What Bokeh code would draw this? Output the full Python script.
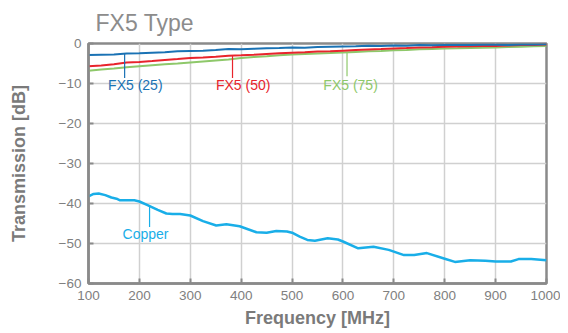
from bokeh.plotting import figure
from bokeh.models import FixedTicker, Range1d
from bokeh.core.properties import value
from bokeh.embed import file_html
from bokeh.resources import INLINE

# ---- data ----
freq = [100, 125, 150, 175, 200, 225, 250, 275, 300, 325, 350, 375, 400, 425, 450, 475, 500,
        525, 550, 575, 600, 625, 650, 675, 700, 725, 750, 775, 800, 825, 850, 875, 900, 925,
        950, 975, 1000]
fx5_25 = [-2.9, -2.8, -2.75, -2.5, -2.45, -2.3, -2.2, -1.95, -1.85, -1.8, -1.6, -1.35, -1.45,
          -1.3, -1.2, -1.15, -1.0, -1.05, -0.85, -0.8, -0.75, -0.7, -0.55, -0.6, -0.5, -0.55,
          -0.4, -0.45, -0.4, -0.35, -0.4, -0.3, -0.3, -0.35, -0.25, -0.25, -0.2]
fx5_50 = [-5.7, -5.5, -5.2, -4.75, -4.6, -4.4, -4.1, -3.9, -3.65, -3.5, -3.3, -3.05, -2.95,
          -2.8, -2.6, -2.45, -2.3, -2.2, -2.0, -1.95, -1.8, -1.65, -1.5, -1.4, -1.25, -1.15,
          -1.0, -0.95, -0.8, -0.75, -0.7, -0.65, -0.6, -0.5, -0.4, -0.35, -0.25]
fx5_75 = [-6.8, -6.5, -6.25, -5.95, -5.7, -5.45, -5.2, -5.0, -4.75, -4.5, -4.25, -4.0, -3.6,
          -3.4, -3.2, -2.95, -2.75, -2.6, -2.5, -2.4, -2.25, -2.1, -1.95, -1.85, -1.7, -1.6,
          -1.45, -1.35, -1.25, -1.2, -1.1, -1.05, -1.0, -0.9, -0.8, -0.7, -0.6]
copper_freq = [100, 110, 120, 133, 145, 155, 162, 190, 200, 216, 236, 253, 265, 280, 300, 325,
               351, 371, 397, 430, 450, 469, 490, 500, 515, 530, 545, 570, 590, 600, 630, 660,
               690, 720, 740, 765, 800, 820, 850, 880, 900, 930, 945, 970, 1000]
copper = [-38.2, -37.6, -37.5, -37.9, -38.5, -38.8, -39.2, -39.2, -39.5, -40.4, -41.6, -42.5,
          -42.6, -42.6, -43.0, -44.4, -45.5, -45.2, -45.7, -47.2, -47.3, -46.9, -47.0, -47.3,
          -48.3, -49.1, -49.3, -48.7, -49.0, -49.5, -51.2, -50.8, -51.6, -52.9, -52.9, -52.4,
          -53.8, -54.6, -54.2, -54.3, -54.5, -54.5, -53.9, -53.9, -54.2]

x_ticks = [100, 200, 300, 400, 500, 600, 700, 800, 900, 1000]
y_ticks = [-60, -50, -40, -30, -20, -10, 0]

labels = ["FX5 (25)", "FX5 (50)", "FX5 (75)", "Copper"]
label_x = [192, 404, 615, 212]
label_y = [-10.3, -10.3, -10.3, -47.6]
leader_x = [171, 383, 608, 220]
leader_y0 = [-2.6, -3.0, -2.3, -40.5]
leader_y1 = [-8.6, -8.6, -8.2, -45.9]

colors = ["#1a72b4", "#e8242c", "#8ec86a", "#19aee8"]

grey = "#8a8a8a"
txt = "#808080"
font = "Liberation Sans"

p = figure(width=560, height=333, output_backend="svg", toolbar_location=None,
           x_range=Range1d(100, 1000), y_range=Range1d(-60, 0),
           min_border_left=88, min_border_right=14, min_border_top=43, min_border_bottom=50)
p.background_fill_color = "white"
p.border_fill_color = "white"
p.outline_line_color = grey
p.outline_line_width = 2.5

p.title.text = "FX5 Type"
p.title.text_font = font
p.title.text_font_size = "23px"
p.title.text_font_style = "normal"
p.title.text_color = "#8c8c8c"
p.title.offset = 7
p.title.standoff = 15

for ax in (p.xaxis[0], p.yaxis[0]):
    ax.axis_line_color = grey
    ax.axis_line_width = 2.5
    ax.major_tick_line_color = grey
    ax.major_tick_line_width = 2
    ax.major_tick_in = 5
    ax.major_tick_out = 0
    ax.minor_tick_line_color = None
    ax.major_label_text_font = font
    ax.major_label_text_font_size = "13.5px"
    ax.major_label_text_color = txt
    ax.axis_label_text_font = font
    ax.axis_label_text_font_size = "18px"
    ax.axis_label_text_font_style = "bold"
    ax.axis_label_text_color = "#7a7a7a"

p.xaxis.ticker = FixedTicker(ticks=x_ticks)
p.yaxis.ticker = FixedTicker(ticks=y_ticks)
p.xaxis.axis_label = "Frequency [MHz]"
p.yaxis.axis_label = "Transmission [dB]"
p.xaxis.major_label_standoff = 7
p.yaxis.major_label_standoff = 7
p.xaxis.axis_label_standoff = 5
p.yaxis.axis_label_standoff = 27

p.xgrid.ticker = FixedTicker(ticks=x_ticks)
p.ygrid.ticker = FixedTicker(ticks=y_ticks)
p.grid.grid_line_color = "#d0d0d0"
p.grid.grid_line_width = 1.5

p.line(copper_freq, copper, line_color=colors[3], line_width=2.5)
p.line(freq, fx5_75, line_color=colors[2], line_width=2)
p.line(freq, fx5_50, line_color=colors[1], line_width=2)
p.line(freq, fx5_25, line_color=colors[0], line_width=2)

p.segment(x0=leader_x, y0=leader_y0, x1=leader_x, y1=leader_y1, line_color=colors, line_width=1.2)
p.text(x=label_x, y=label_y, text=labels, text_color=colors, text_align="center",
       text_baseline="middle", text_font=value(font), text_font_size="14px")

open("out.html", "w").write(file_html(p, INLINE))
